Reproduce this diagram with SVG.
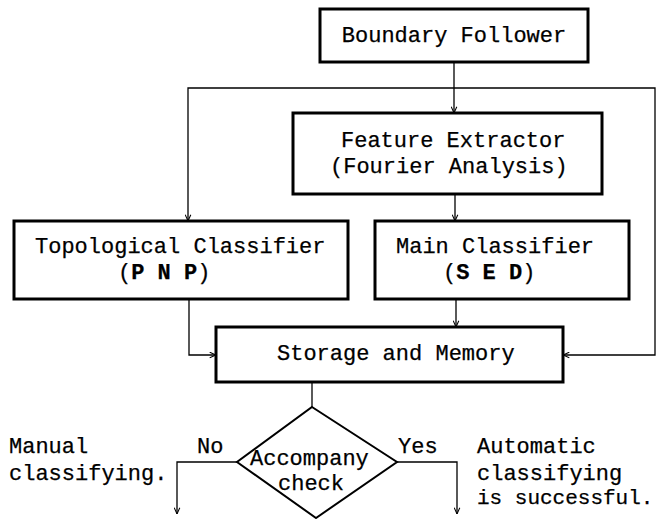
<svg xmlns="http://www.w3.org/2000/svg" width="659" height="519" viewBox="0 0 659 519">
<style>
.box{fill:#fff;stroke:#000;stroke-width:3}
.dia{fill:none;stroke:#000;stroke-width:2}
.con{fill:none;stroke:#000;stroke-width:1.3}
text{font-family:"Liberation Mono","Courier New",monospace;font-size:22px;fill:#000;stroke:#000;stroke-width:0.25}
.b{font-weight:bold}
.s{font-size:21px}
</style>
<defs>
<marker id="ah" viewBox="0 0 10 10" refX="10" refY="5" markerWidth="7" markerHeight="7" markerUnits="userSpaceOnUse" orient="auto">
<path d="M1,1 L10,5 L1,9" fill="none" stroke="#000" stroke-width="1.5"/>
</marker>
</defs>
<rect width="659" height="519" fill="#fff"/>
<g id="connectors">
<line class="con" x1="454" y1="62" x2="454" y2="113" marker-end="url(#ah)"/>
<polyline class="con" points="454,88 188,88 188,221" marker-end="url(#ah)"/>
<polyline class="con" points="454,88 655,88 655,355 563,355" marker-end="url(#ah)"/>
<line class="con" x1="455" y1="194" x2="455" y2="221" marker-end="url(#ah)"/>
<line class="con" x1="456" y1="299" x2="456" y2="327" marker-end="url(#ah)"/>
<polyline class="con" points="189,299 189,355 216,355" marker-end="url(#ah)"/>
<line class="con" x1="312" y1="382" x2="312" y2="407"/>
<polyline class="con" points="237,462 177,462 177,514" marker-end="url(#ah)"/>
<polyline class="con" points="397,462 457,462 457,514" marker-end="url(#ah)"/>
</g>
<g id="boundary">
<rect class="box" x="320" y="9" width="268" height="53"/>
<text x="454" y="42" text-anchor="middle">Boundary Follower</text>
</g>
<g id="feature">
<rect class="box" x="293" y="113" width="309" height="81"/>
<text x="341" y="147">Feature Extractor</text>
<text x="330" y="173">(Fourier Analysis)</text>
</g>
<g id="topological">
<rect class="box" x="14" y="221" width="334" height="78"/>
<text x="35" y="253">Topological Classifier</text>
<text x="118" y="279">(<tspan class="b">P N P</tspan>)</text>
</g>
<g id="main">
<rect class="box" x="375" y="221" width="254" height="78"/>
<text x="396" y="253">Main Classifier</text>
<text x="443" y="279">(<tspan class="b">S E D</tspan>)</text>
</g>
<g id="storage">
<rect class="box" x="216" y="327" width="347" height="55"/>
<text x="277" y="360">Storage and Memory</text>
</g>
<g id="check">
<polygon class="dia" points="312,407 397,462 316,518 237,462"/>
<text x="250" y="465">Accompany</text>
<text x="278" y="490">check</text>
</g>
<g id="labels">
<text x="197" y="453">No</text>
<text x="398" y="453">Yes</text>
<text x="9" y="453">Manual</text>
<text x="9" y="480">classifying.</text>
<text x="477" y="453">Automatic</text>
<text x="477" y="480">classifying</text>
<text class="s" x="477" y="504">is successful.</text>
</g>
</svg>
